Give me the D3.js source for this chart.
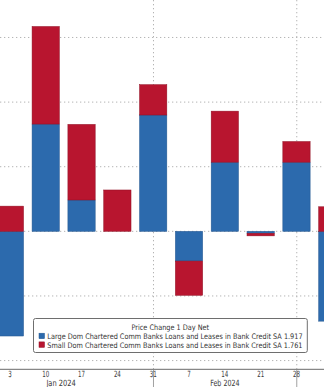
<!DOCTYPE html>
<html><head><meta charset="utf-8">
<script src="https://cdn.jsdelivr.net/npm/d3@7"></script>
<style>html,body{margin:0;padding:0;background:#fff;overflow:hidden}svg{display:block}</style>
</head><body>
<svg id="c" width="324" height="387"></svg>
<script>
const dates = ["2024-01-03","2024-01-10","2024-01-17","2024-01-24","2024-01-31","2024-02-07","2024-02-14","2024-02-21","2024-02-28","2024-03-06"];
const tickLabels = ["3","10","17","24","31","7","14","21","28",""];
const largeBanks = [-16.2, 16.6, 4.85, 0, 18.0, -4.6, 10.7, -0.3, 10.7, -13.9];
const smallBanks = [3.9, 15.1, 11.7, 6.4, 4.7, -5.3, 7.9, -0.4, 3.2, 3.8];
const gridValues = [-20, -10, 0, 10, 20, 30];
const monthDividers = ["2024-01-31","2024-02-28"];
const monthLabels = [["Jan 2024","2024-01-13"],["Feb 2024","2024-02-14"]];
const legendTitle = "Price Change 1 Day Net";
const seriesNames = ["Large Dom Chartered Comm Banks Loans and Leases in Bank Credit SA 1.917",
                     "Small Dom Chartered Comm Banks Loans and Leases in Bank Credit SA 1.761"];
const colors = ["#2c6aad","#b8152f"];
const strokes = ["#24578f","#8f1024"];

const parse = d3.timeParse("%Y-%m-%d");
const W = 324, H = 387, axisY = 369.3;
const x = d3.scaleTime().domain([parse(dates[0]), parse(dates[9])]).range([9.9, 332.3]);
const y = d3.scaleLinear().domain([-21.35, 35.8]).range([axisY, 0]);
const barW = 27.3;
const svg = d3.select("#c");
const font = "'DejaVu Sans', sans-serif";

// place text at (px,py) with a horizontal condensation so its width matches target
function condensed(sel, px, py, fs, target) {
  sel.attr("font-family", font).attr("font-size", fs).attr("x", 0).attr("y", 0)
    .each(function(d, i) {
      const w = this.getComputedTextLength() || 1;
      const sx = typeof target === "number" ? target / w : target(d, i, w);
      d3.select(this).attr("transform",
        `translate(${typeof px === "function" ? px(d, i) : px},${typeof py === "function" ? py(d, i) : py}) scale(${sx.toFixed(3)},1)`);
    });
}

// gridlines
svg.append("g").selectAll("line").data(gridValues).join("line")
  .attr("x1", 0).attr("x2", W)
  .attr("y1", d => y(d)).attr("y2", d => y(d))
  .attr("stroke", "#b4b4b4").attr("stroke-width", 1).attr("stroke-dasharray", "1.3,2.7");
svg.append("g").selectAll("line").data(monthDividers).join("line")
  .attr("x1", d => x(parse(d)) + 0.3).attr("x2", d => x(parse(d)) + 0.3)
  .attr("y1", 0).attr("y2", axisY)
  .attr("stroke", "#b4b4b4").attr("stroke-width", 1).attr("stroke-dasharray", "1.3,2.7");

// bars
const table = dates.map((d, i) => ({date: parse(d), large: largeBanks[i], small: smallBanks[i]}));
const stack = d3.stack().keys(["large","small"]).offset(d3.stackOffsetDiverging)(table);
svg.append("g").selectAll("g").data(stack).join("g")
  .attr("fill", (d, i) => colors[i]).attr("stroke", (d, i) => strokes[i]).attr("stroke-width", 0.5)
  .selectAll("rect").data(d => d).join("rect")
  .attr("x", d => x(d.data.date) - barW / 2)
  .attr("width", barW)
  .attr("y", d => y(Math.max(d[0], d[1])))
  .attr("height", d => Math.abs(y(d[0]) - y(d[1])));

// axis
svg.append("line").attr("x1", 0).attr("x2", W).attr("y1", axisY).attr("y2", axisY)
  .attr("stroke", "#6a6a6a").attr("stroke-width", 1);
svg.append("g").selectAll("line").data(monthDividers).join("line")
  .attr("x1", d => x(parse(d)) + 0.3).attr("x2", d => x(parse(d)) + 0.3)
  .attr("y1", axisY).attr("y2", H)
  .attr("stroke", "#8a8a8a").attr("stroke-width", 0.8);
const tl = svg.append("g").selectAll("text").data(dates).join("text")
  .attr("text-anchor", "middle").attr("fill", "#3a3a3a").text((d, i) => tickLabels[i]);
condensed(tl, d => x(parse(d)), 377, 8.6, () => 0.64);
const ml = svg.append("g").selectAll("text").data(monthLabels).join("text")
  .attr("text-anchor", "middle").attr("fill", "#3a3a3a").text(d => d[0]);
condensed(ml, d => x(parse(d[1])), 385.8, 8.6, 29.4);

// legend
const lg = svg.append("g");
lg.append("rect").attr("x", 33.5).attr("y", 318.5).attr("width", 273.8).attr("height", 34)
  .attr("rx", 2).attr("fill", "#fff").attr("stroke", "#6e6e6e").attr("stroke-width", 1);
const tt = lg.append("text").attr("text-anchor", "middle").attr("fill", "#333").text(legendTitle);
condensed(tt, 170.3, 330, 7.6, 77.7);
const entries = lg.selectAll("g.e").data(seriesNames).join("g").attr("class", "e");
entries.append("rect").attr("x", 39).attr("y", (d, i) => 333.2 + i * 8.7)
  .attr("width", 5.5).attr("height", 5.5).attr("fill", (d, i) => colors[i])
  .attr("stroke", (d, i) => strokes[i]).attr("stroke-width", 0.5);
const et = entries.append("text").attr("fill", "#333").text(d => d);
condensed(et, 47.3, (d, i) => 338.9 + i * 8.7, 7.6, 255.4);
</script>
</body></html>
